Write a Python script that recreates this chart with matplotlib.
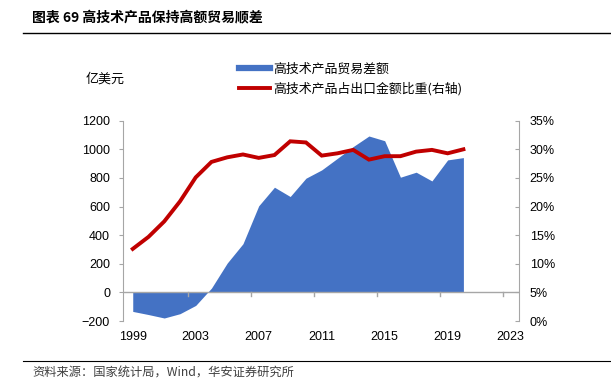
import matplotlib
matplotlib.use("Agg")
import matplotlib.pyplot as plt
from matplotlib.lines import Line2D

plt.rcParams['font.family'] = ['Liberation Sans', 'Noto Sans CJK SC', 'DejaVu Sans']

# data
years = [1999, 2000, 2001, 2002, 2003, 2004, 2005, 2006, 2007, 2008, 2009,
         2010, 2011, 2012, 2013, 2014, 2015, 2016, 2017, 2018, 2019, 2020]
trade_balance = [-133, -155, -179, -149, -91, 30, 205, 340, 605, 735, 670,
                 798, 856, 937, 1019, 1093, 1060, 805, 840, 779, 926, 942]
export_share = [12.6, 14.7, 17.4, 20.9, 25.1, 27.8, 28.6, 29.1, 28.5, 29.0, 31.4,
                31.2, 28.9, 29.3, 29.9, 28.2, 28.8, 28.8, 29.6, 29.9, 29.3, 30.0]
year_labels = [1999, 2003, 2007, 2011, 2015, 2019, 2023]

title = "图表 69 高技术产品保持高额贸易顺差"
source = "资料来源：国家统计局，Wind，华安证券研究所"
unit = "亿美元"
name_area = "高技术产品贸易差额"
name_line = "高技术产品占出口金额比重(右轴)"

blue = "#4472C4"
red = "#C00000"
grey = "#A6A6A6"
cjk = ['Noto Sans CJK SC']

fig = plt.figure(figsize=(6.11, 3.9), dpi=100)
ax = fig.add_axes([123.3 / 611, 1 - 321 / 390, (519.3 - 123.3) / 611, (321 - 120.7) / 390])

ax.fill_between(years, trade_balance, 0, color=blue, lw=0)
ax.set_xlim(1998.4, 2023.55)
ax.set_ylim(-200, 1200)
ax.set_yticks(range(-200, 1201, 200))
ax.axhline(0, color=grey, lw=1, zorder=1)

for s in ['top', 'right', 'bottom']:
    ax.spines[s].set_visible(False)
ax.spines['left'].set_color(grey)
ax.tick_params(axis='y', colors=grey, labelcolor='black', labelsize=9,
               length=3, direction='out', pad=6.5)

# x ticks: short marks on the zero line, labels below the axes
ax.set_xticks([])
for t in [2002.5, 2006.5, 2010.5, 2014.5, 2018.5, 2022.5]:
    ax.plot([t, t], [0, -28], color=grey, lw=1, clip_on=False)
for y in year_labels:
    ax.text(y, -272, str(y), ha='center', va='top', fontsize=9)

ax2 = ax.twinx()
ax2.plot(years, export_share, color=red, lw=2.8, solid_joinstyle='miter')
ax2.set_ylim(0, 35)
ax2.set_yticks(range(0, 36, 5))
ax2.set_yticklabels([f"{v}%" for v in range(0, 36, 5)])
for s in ['top', 'left', 'bottom']:
    ax2.spines[s].set_visible(False)
ax2.spines['right'].set_color(grey)
ax2.tick_params(axis='y', colors=grey, labelcolor='black', labelsize=9,
                length=3, direction='in', pad=7.5)

# legend
handles = [Line2D([], [], color=blue, lw=4.5), Line2D([], [], color=red, lw=2.8)]
fig.legend(handles, [name_area, name_line], loc='upper left',
           bbox_to_anchor=(233 / 611, 1 - 56 / 390), frameon=False,
           prop={'family': cjk, 'size': 9.3},
           handlelength=2.4, handletextpad=0.25, labelspacing=0.5, borderpad=0)

fig.text(86 / 611, 1 - 79 / 390, unit, fontsize=9.4, va='center', family=cjk)

fig.text(32 / 611, 1 - 17 / 390, title, fontsize=10, fontweight='bold', va='center',
         family=cjk)
fig.add_artist(Line2D([23 / 611, 1], [1 - 33.3 / 390] * 2, color='black', lw=1))
fig.add_artist(Line2D([23 / 611, 1], [1 - 360.7 / 390] * 2, color='black', lw=0.8))
fig.text(32 / 611, 1 - 373.5 / 390, source, fontsize=8.8, va='center', color='#404040',
         family=cjk)

fig.savefig("out.png", dpi=100)
